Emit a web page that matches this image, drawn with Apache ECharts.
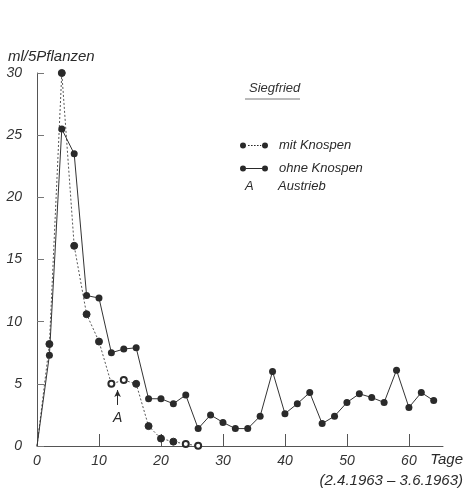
<!DOCTYPE html>
<html><head><meta charset="utf-8">
<script src="https://cdn.jsdelivr.net/npm/echarts@6/dist/echarts.min.js"></script>
<style>html,body{margin:0;padding:0;background:#fff}#c{width:465px;height:489px}</style>
</head><body><div id="c"></div>
<script>
const days = [0,2,4,6,8,10,12,14,16,18,20,22,24,26,28,30,32,34,36,38,40,42,44,46,48,50,52,54,56,58,60,62,64];
const ohneKnospen = [0,7.3,25.5,23.5,12.1,11.9,7.5,7.8,7.9,3.8,3.8,3.4,4.1,1.4,2.5,1.9,1.4,1.4,2.4,6.0,2.6,3.4,4.3,1.8,2.4,3.5,4.2,3.9,3.5,6.1,3.1,4.3,3.65];
const mitKnospen = [0,8.2,30,16.1,10.6,8.4,5.0,5.3,5.0,1.6,0.6,0.35,0.16,0.02];
const openDaysMit = [12,14,24,26];
const xTicks = [10,20,30,40,50,60];
const xLabels = [0,10,20,30,40,50,60];
const arrowDay = 13, arrowFrom = 3.3, arrowTo = 4.5;

const ink = '#2a2a2a';
const font = 'Liberation Sans';
function build(vals, openDays){
  return vals.map((v,i)=>{
    const d = days[i];
    const o = {value:[d,v]};
    if (i===0) o.symbolSize = 0;
    else if (openDays && openDays.indexOf(d)>=0) { o.symbol='emptyCircle'; o.symbolSize=6; }
    return o;
  });
}
const circL = 'M0,3A3,3,0,1,1,6,3A3,3,0,1,1,0,3Z';
const circR = 'M22,3A3,3,0,1,1,28,3A3,3,0,1,1,22,3Z';
const dotIcon = 'path://'+circL+' M8,2.5h1.6v1h-1.6Z M11,2.5h1.6v1h-1.6Z M14,2.5h1.6v1h-1.6Z M17,2.5h1.6v1h-1.6Z M20,2.5h1.2v1h-1.2Z '+circR;
const solidIcon = 'path://'+circL+' M6,2.5h16v1h-16Z '+circR;

const chart = echarts.init(document.getElementById('c'), null, {renderer:'canvas'});
chart.setOption({
  animation:false,
  backgroundColor:'#fff',
  title:{text:'Siegfried', left:244, top:77, textStyle:{fontFamily:font, fontStyle:'italic', fontWeight:'normal', fontSize:13, color:'#333'}},
  legend:{
    orient:'vertical', left:235, top:134, itemWidth:28, itemHeight:6, itemGap:10,
    textStyle:{fontFamily:font, fontStyle:'italic', fontSize:13, color:ink, padding:[0,0,0,6]},
    data:[
      {name:'mit Knospen', icon:dotIcon, itemStyle:{color:ink}},
      {name:'ohne Knospen', icon:solidIcon, itemStyle:{color:ink}}
    ]
  },
  grid:{left:37, right:22, top:73, bottom:43},
  xAxis:{
    type:'value', min:0, max:65.5,
    axisLine:{lineStyle:{color:'#555', width:1}},
    axisTick:{inside:true, length:12, customValues:xTicks, lineStyle:{color:'#555'}},
    axisLabel:{customValues:xLabels, margin:8, fontFamily:font, fontStyle:'italic', fontSize:14, color:'#333'},
    splitLine:{show:false}
  },
  yAxis:{
    type:'value', min:0, max:30, interval:5, offset:11,
    axisLine:{show:true, lineStyle:{color:'#555', width:1}},
    axisTick:{show:true, inside:true, length:7, lineStyle:{color:'#777'}},
    axisLabel:{margin:4, fontFamily:font, fontStyle:'italic', fontSize:14, color:'#333'},
    splitLine:{show:false}
  },
  series:[
    {
      name:'mit Knospen', type:'line', data:build(mitKnospen, openDaysMit),
      symbol:'circle', symbolSize:7, showAllSymbol:true,
      lineStyle:{color:'#555', width:1, type:[2,2]},
      itemStyle:{color:ink, borderColor:ink},
      markLine:{
        silent:true, symbol:['none','arrow'], symbolSize:[5,7],
        lineStyle:{color:ink, width:1, type:'solid'},
        label:{show:true, position:'start', formatter:'A', distance:6, fontFamily:font, fontStyle:'italic', fontSize:14, color:ink},
        data:[[{coord:[arrowDay, arrowFrom]},{coord:[arrowDay, arrowTo]}]]
      }
    },
    {
      name:'ohne Knospen', type:'line', data:build(ohneKnospen, null),
      symbol:'circle', symbolSize:7, showAllSymbol:true,
      lineStyle:{color:'#333', width:1},
      itemStyle:{color:ink}
    }
  ],
  graphic:[
    {type:'text', left:8, top:49, style:{text:'ml/5Pflanzen', font:'italic 15px "Liberation Sans"', fill:ink}},
    {type:'line', shape:{x1:245, y1:99, x2:300, y2:99}, style:{stroke:'#777', lineWidth:1}},
    {type:'text', left:245, top:180, style:{text:'A', font:'italic 13px "Liberation Sans"', fill:ink}},
    {type:'text', left:278, top:180, style:{text:'Austrieb', font:'italic 13px "Liberation Sans"', fill:ink}},
    {type:'text', right:2, top:452, style:{text:'Tage', font:'italic 15px "Liberation Sans"', fill:ink}},
    {type:'text', right:2, top:473, style:{text:'(2.4.1963 – 3.6.1963)', font:'italic 15px "Liberation Sans"', fill:ink}}
  ]
});
</script></body></html>
